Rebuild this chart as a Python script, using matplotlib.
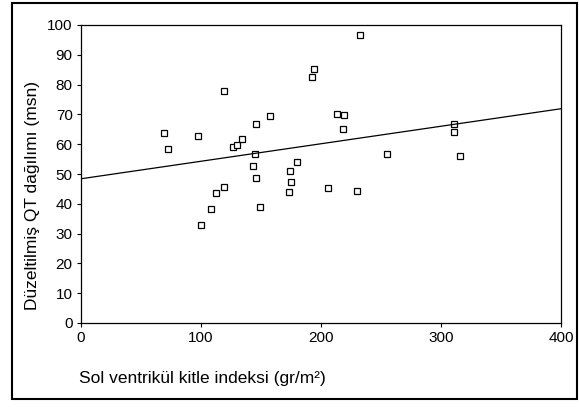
import matplotlib
matplotlib.use('Agg')
import matplotlib.pyplot as plt
from matplotlib.patches import Rectangle

plt.rcParams['font.family'] = ['Liberation Sans', 'DejaVu Sans']

# sol ventrikul kitle indeksi (gr/m2) vs duzeltilmis QT dagilimi (msn)
lvmi = [69.4, 72.5, 97.2, 119.4, 100.3, 108.0, 112.5, 119.4, 127.0, 129.7, 134.0,
        144.7, 143.0, 145.5, 145.5, 149.5, 232.5, 193.9, 192.2, 157.8, 213.0, 219.2,
        218.0, 255.0, 179.7, 174.2, 174.7, 173.3, 206.0, 229.7, 311.0, 310.8, 316.0]
qtd = [63.7, 58.3, 62.6, 77.7, 32.8, 38.2, 43.7, 45.5, 59.2, 59.7, 61.7,
       56.6, 52.8, 48.6, 66.8, 39.0, 96.6, 85.3, 82.7, 69.4, 70.1, 69.8,
       65.0, 56.8, 54.0, 51.1, 47.4, 44.0, 45.3, 44.4, 66.8, 64.1, 55.9]

# regresyon cizgisi (resimden okunan uclar)
fit_x = [0, 400]
fit_y = [48.4, 71.9]

fig = plt.figure(figsize=(5.79, 4.07), dpi=100)
fig.patches.append(Rectangle((12 / 579, 1 - 399 / 407), 565 / 579, 396 / 407,
                             transform=fig.transFigure, fill=False,
                             edgecolor='black', linewidth=1.5))

ax = fig.add_axes([81 / 579, 1 - 323 / 407, 480 / 579, 298 / 407])
ax.plot(lvmi, qtd, linestyle='none', marker='s', markersize=4.3,
        markerfacecolor='white', markeredgecolor='black', markeredgewidth=0.9)
ax.plot(fit_x, fit_y, color='black', linewidth=0.9)

ax.set_xlim(0, 400)
ax.set_ylim(0, 100)
ax.set_xticks([0, 100, 200, 300, 400])
ax.set_yticks(range(0, 101, 10))
ax.tick_params(direction='out', length=3, width=0.8, labelsize=11, pad=3)
for s in ax.spines.values():
    s.set_linewidth(0.9)

fig.text(202 / 579, 1 - 379 / 407, 'Sol ventrikül kitle indeksi (gr/m²)',
         ha='center', va='center', fontsize=12.5)
fig.text(33 / 579, 1 - 195 / 407, 'Düzeltilmiş QT dağılımı (msn)',
         ha='center', va='center', rotation=90, fontsize=12.5)

fig.savefig('out.png', dpi=100)
